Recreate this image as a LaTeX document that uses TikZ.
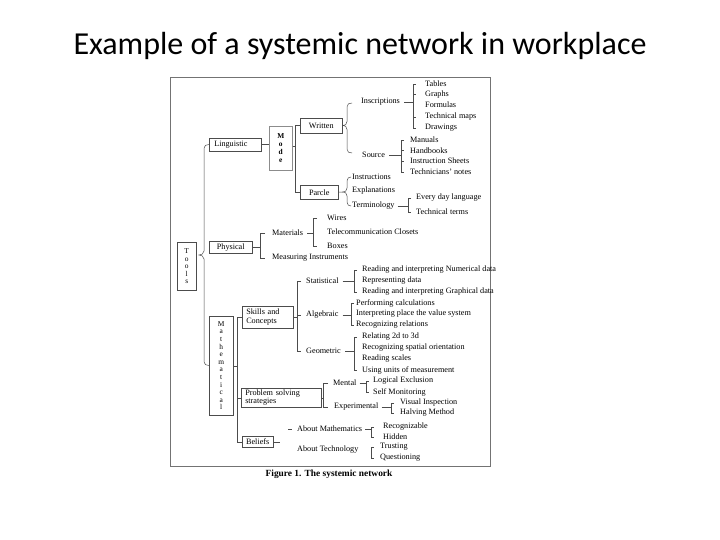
\documentclass[tikz,border=0pt]{standalone}
\usepackage{fontspec}
\setmainfont{Liberation Serif}
\newfontfamily\titlefont{Carlito}
\newcommand{\mybrace}[6]{%
  \draw[ln] (#1,#4) .. controls (#2+2,#4) and (#2,#4+1) .. (#2,#4+4) -- (#2,#5-4)
    .. controls (#2,#5-1) and (#3+2,#5) .. (#3,#5)
    .. controls (#3+2,#5) and (#2,#5+1) .. (#2,#5+4) -- (#2,#6-4)
    .. controls (#2,#6-1) and (#2+2,#6) .. (#1,#6);}
\begin{document}
\begin{tikzpicture}[x=1pt,y=-1pt,
  lbl/.style={font=\fontsize{8.2}{9}\selectfont, inner sep=0pt, anchor=west, text=black},
  bx/.style={draw=black!70, line width=0.5pt, inner sep=0pt, font=\fontsize{8.2}{9}\selectfont, anchor=north west, text=black},
  vbx/.style={bx, align=center},
  ln/.style={draw=black!70, line width=0.5pt},
]
\useasboundingbox[fill=white] (0,0) rectangle (720,540);
\node[font=\titlefont\fontsize{32}{34}\selectfont, anchor=base] (title) at (360,55) {Example of a systemic network in workplace};
\node[draw=black!55, line width=0.6pt, minimum width=320, minimum height=389, anchor=north west, inner sep=0pt] (frame) at (170,77) {};
\node[font=\bfseries\fontsize{9.4}{10}\selectfont, text=black] (cap) at (329,474) {Figure 1. The systemic network};

% boxes
\node[bx, minimum width=52, minimum height=13, text width=42, inner xsep=5pt, align=left] (ling) at (209,138) {Linguistic};
\node[vbx, draw=black!45, minimum width=23, minimum height=44, font=\bfseries\fontsize{7.4}{7.8}\selectfont] (mode) at (269,126) {M\\o\\d\\e};
\node[bx, minimum width=42, minimum height=15] (wri) at (300,118) {Written};
\node[bx, minimum width=38, minimum height=14] (par) at (300,185) {Parcle};
\node[bx, minimum width=43, minimum height=12] (phy) at (209,241) {Physical};
\node[vbx, minimum width=19, minimum height=48, font=\fontsize{7.4}{7.6}\selectfont] (tools) at (177,242) {T\\o\\o\\l\\s};
\node[vbx, minimum width=24, minimum height=99, font=\fontsize{7.4}{7.6}\selectfont] (math) at (209,316) {M\\a\\t\\h\\e\\m\\a\\t\\i\\c\\a\\l};
\node[bx, minimum width=50, minimum height=22, text width=43, inner xsep=4pt, align=left] (sk) at (242,306) {Skills and\\Concepts};
\node[bx, minimum width=79, minimum height=19, text width=72, inner xsep=4pt, align=left, font=\fontsize{8.2}{8.4}\selectfont] (ps) at (241,388) {Problem solving\\strategies};
\node[bx, minimum width=31, minimum height=11] (bel) at (242,436) {Beliefs};

% labels
\node[lbl] (ins) at (361,102) {Inscriptions};
\node[lbl] (tab) at (425,84) {Tables};
\node[lbl] (gra) at (425,94.5) {Graphs};
\node[lbl] (for) at (425,105) {Formulas};
\node[lbl] (tma) at (425,117) {Technical maps};
\node[lbl] (dra) at (425,128) {Drawings};
\node[lbl] (src) at (362,155) {Source};
\node[lbl] (man) at (410,140) {Manuals};
\node[lbl] (han) at (410,150.5) {Handbooks};
\node[lbl] (ish) at (410,161) {Instruction Sheets};
\node[lbl] (tno) at (410,172) {Technicians' notes};
\node[lbl] (inst) at (352,177) {Instructions};
\node[lbl] (expl) at (352,191) {Explanations};
\node[lbl] (term) at (352,206) {Terminology};
\node[lbl] (edl) at (416,198) {Every day language};
\node[lbl] (tte) at (416,212) {Technical terms};
\node[lbl] (mat) at (272,233) {Materials};
\node[lbl] (mea) at (272,258) {Measuring Instruments};
\node[lbl] (wir) at (327,218) {Wires};
\node[lbl] (tcl) at (327,232) {Telecommunication Closets};
\node[lbl] (boxs) at (327,246) {Boxes};
\node[lbl] (sta) at (306,281) {Statistical};
\node[lbl] (alg) at (306,315) {Algebraic};
\node[lbl] (geo) at (306,351) {Geometric};
\node[lbl] (rn) at (362,270) {Reading and interpreting Numerical data};
\node[lbl] (rd) at (362,281) {Representing data};
\node[lbl] (rg) at (362,292) {Reading and interpreting Graphical data};
\node[lbl] (pc) at (356,303) {Performing calculations};
\node[lbl] (ip) at (356,314) {Interpreting place the value system};
\node[lbl] (rr) at (356,325) {Recognizing relations};
\node[lbl] (r23) at (362,337) {Relating 2d to 3d};
\node[lbl] (rso) at (362,348) {Recognizing spatial orientation};
\node[lbl] (rsc) at (362,359) {Reading scales};
\node[lbl] (uum) at (362,370) {Using units of measurement};
\node[lbl] (men) at (333,383) {Mental};
\node[lbl] (exm) at (334,407) {Experimental};
\node[lbl] (lex) at (373,381) {Logical Exclusion};
\node[lbl] (smo) at (373,392) {Self Monitoring};
\node[lbl] (vin) at (400,403) {Visual Inspection};
\node[lbl] (hme) at (400,413) {Halving Method};
\node[lbl] (abm) at (297,429) {About Mathematics};
\node[lbl] (abt) at (297,450) {About Technology};
\node[lbl] (rec) at (383,427) {Recognizable};
\node[lbl] (hid) at (383,437) {Hidden};
\node[lbl] (tru) at (380,447) {Trusting};
\node[lbl] (que) at (380,458) {Questioning};

% spine coordinates
\coordinate (sMode) at (295,0);
\coordinate (sIns) at (413,0);
\coordinate (sSrc) at (401,0);
\coordinate (sTer) at (408,0);
\coordinate (sPhy) at (260,0);
\coordinate (sMat) at (313,0);
\coordinate (sSk) at (297,0);
\coordinate (sSta) at (354,0);
\coordinate (sAlg) at (351,0);
\coordinate (sGeo) at (354,0);
\coordinate (sMath) at (237,0);
\coordinate (sPs) at (323,0);
\coordinate (sMen) at (366,0);
\coordinate (sExp) at (391,0);
\coordinate (sAbm) at (371,0);
\coordinate (sAbt) at (371,0);

% Tools brace
\mybrace{209}{204}{199}{144.5}{255}{365.5}
% Linguistic - Mode - Written/Parcle
\draw[ln] (ling.east) -- (mode.west |- ling.east);
\draw[ln] (mode.east |- 0,146) -- (sMode |- 0,146);
\draw[ln] (wri.west) -- (wri.west -| sMode) -- (par.west -| sMode) -- (par.west);
% Written brace
\draw[ln] (wri.east) -- (343,125.5);
\mybrace{352}{347}{343}{103}{125.5}{153}
% Inscriptions
\draw[ln] (ins.east) ++(4,0) -- (ins.east -| sIns);
\draw[ln] (tab.west -| sIns) ++(3,0) -- (tab.west -| sIns) -- (dra.west -| sIns) -- ++(3,0);
\draw[ln] (gra.west -| sIns) -- ++(3,0);
\draw[ln] (tma.west -| sIns) -- ++(3,0);
% Source
\draw[ln] (src.east) ++(4,0) -- (src.east -| sSrc);
\draw[ln] (man.west -| sSrc) ++(3,0) -- (man.west -| sSrc) -- (tno.west -| sSrc) -- ++(3,0);
\draw[ln] (han.west -| sSrc) -- ++(3,0);
\draw[ln] (ish.west -| sSrc) -- ++(3,0);
% Parcle brace
\draw[ln] (par.east) -- (343,192);
\mybrace{351}{347}{343}{177}{192}{206}
% Terminology
\draw[ln] (term.east) ++(3,0) -- (term.east -| sTer);
\draw[ln] (edl.west -| sTer) ++(3,0) -- (edl.west -| sTer) -- (tte.west -| sTer) -- ++(3,0);
% Physical
\draw[ln] (phy.east) -- (phy.east -| sPhy);
\draw[ln] (mat.west -| sPhy) ++(5,0) -- (mat.west -| sPhy) -- (mea.west -| sPhy) -- ++(5,0);
% Materials
\draw[ln] (mat.east) ++(4,0) -- (mat.east -| sMat);
\draw[ln] (wir.west -| sMat) ++(4,0) -- (wir.west -| sMat) -- (boxs.west -| sMat) -- ++(4,0);
% Mathematical
\draw[ln] (math.east) -- (math.east -| sMath);
\draw[ln] (sk.west) -- (sk.west -| sMath) -- (bel.west -| sMath) -- (bel.west);
\draw[ln] (ps.west -| sMath) -- (ps.west);
% Skills and Concepts
\draw[ln] (sk.east) -- (sk.east -| sSk);
\draw[ln] (sta.west -| sSk) ++(4,0) -- (sta.west -| sSk) -- (geo.west -| sSk) -- ++(4,0);
\draw[ln] (alg.west -| sSk) -- ++(4,0);
% Statistical
\draw[ln] (sta.east) ++(4,0) -- (sta.east -| sSta);
\draw[ln] (rn.west -| sSta) ++(3,0) -- (rn.west -| sSta) -- (rg.west -| sSta) -- ++(3,0);
% Algebraic
\draw[ln] (alg.east) ++(4,0) -- (alg.east -| sAlg);
\draw[ln] (pc.west -| sAlg) ++(3,0) -- (pc.west -| sAlg) -- (rr.west -| sAlg) -- ++(3,0);
% Geometric
\draw[ln] (geo.east) ++(4,0) -- (geo.east -| sGeo);
\draw[ln] (r23.west -| sGeo) ++(3,0) -- (r23.west -| sGeo) -- (uum.west -| sGeo) -- ++(3,0);
% Problem solving
\draw[ln] (ps.east) -- (ps.east -| sPs);
\draw[ln] (men.west -| sPs) ++(5,0) -- (men.west -| sPs) -- (exm.west -| sPs) -- ++(5,0);
% Mental
\draw[ln] (men.east) ++(3,0) -- (men.east -| sMen);
\draw[ln] (lex.west -| sMen) ++(3,0) -- (lex.west -| sMen) -- (smo.west -| sMen) -- ++(3,0);
% Experimental
\draw[ln] (exm.east) ++(3,0) -- (exm.east -| sExp);
\draw[ln] (vin.west -| sExp) ++(3,0) -- (vin.west -| sExp) -- (hme.west -| sExp) -- ++(3,0);
% Beliefs
\draw[ln] (bel.east) -- ++(6,0);
\draw[ln] (abm.west) ++(-9,0) -- ++(4,0);
% About Mathematics
\draw[ln] (abm.east) ++(3,0) -- (abm.east -| sAbm);
\draw[ln] (rec.west -| sAbm) ++(3,0) -- (rec.west -| sAbm) -- (hid.west -| sAbm) -- ++(3,0);
% About Technology
\draw[ln] (tru.west -| sAbt) ++(3,0) -- (tru.west -| sAbt) -- (que.west -| sAbt) -- ++(3,0);
\end{tikzpicture}
\end{document}
